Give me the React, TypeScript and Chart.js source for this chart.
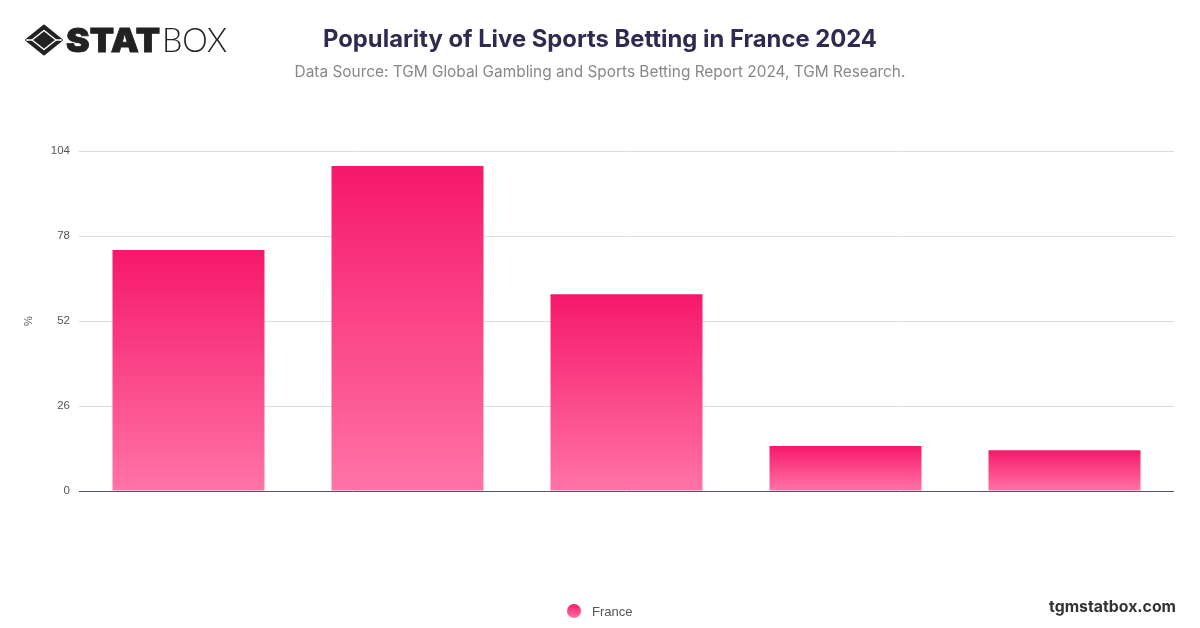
import Chart from "chart.js/auto";
import { useEffect, useRef } from "react";

// bars carry no category text in the picture
const categories = ["", "", "", "", ""];
const franceValues = [73.7, 99.4, 60.2, 13.8, 12.5];
const seriesName = "France";
const yMax = 104;
const yStep = 26;

const titleText = "Popularity of Live Sports Betting in France 2024";
const subtitleText = "Data Source: TGM Global Gambling and Sports Betting Report 2024, TGM Research.";

const TOP_PINK = "#f6186a";
const BOTTOM_PINK = "#ff74a6";
const FONT = "Inter, 'Liberation Sans', sans-serif";
const LABEL_FONT = "'Liberation Sans', sans-serif";

function barGradient(context: any) {
  const chart = context.chart;
  const yScale = chart.scales.y;
  if (!chart.chartArea || !yScale || context.raw === undefined) return TOP_PINK;
  const gradient = chart.ctx.createLinearGradient(
    0,
    yScale.getPixelForValue(context.raw),
    0,
    yScale.getPixelForValue(0)
  );
  gradient.addColorStop(0, TOP_PINK);
  gradient.addColorStop(1, BOTTOM_PINK);
  return gradient;
}

function Logo() {
  return (
    <svg
      width="210"
      height="40"
      viewBox="0 0 210 40"
      style={{ position: "absolute", left: 24, top: 20 }}
    >
      <path d="M20 5.500 L38 20 L20 34.500 L2 20 Z" fill="#222" stroke="#222" strokeWidth="2" strokeLinejoin="round" />
      <path d="M20 10.500 L32 20 L20 29.500 L8 20 Z" fill="#222" stroke="#fff" strokeWidth="1.500" strokeLinejoin="round" />
      <path d="M2 20 L8 20 M32 20 L38 20" stroke="#fff" strokeWidth="1.500" />
      <text x="42" y="32" fontFamily="Inter, sans-serif" fontWeight="900" fontSize="33" fill="#222" stroke="#222" strokeWidth="0.800" textLength="94" lengthAdjust="spacingAndGlyphs">
        STAT
      </text>
      <text x="138" y="32" fontFamily="Lato, sans-serif" fontWeight="300" fontSize="34" fill="#222" textLength="65" lengthAdjust="spacingAndGlyphs">
        BOX
      </text>
    </svg>
  );
}

export default function App() {
  const canvasRef = useRef<HTMLCanvasElement>(null);

  useEffect(() => {
    const canvas = canvasRef.current;
    if (!canvas) return;

    const chart = new Chart(canvas, {
      type: "bar",
      data: {
        labels: categories,
        datasets: [
          {
            label: seriesName,
            data: franceValues,
            backgroundColor: barGradient,
            barPercentage: 0.694,
            categoryPercentage: 1,
          },
        ],
      },
      options: {
        animation: false,
        responsive: false,
        layout: { padding: { left: 26, right: 26, top: 0, bottom: 0 } },
        scales: {
          x: {
            afterFit: (scale: any) => {
              scale.height = 137;
            },
            grid: { display: false },
            border: { display: false },
            ticks: { display: false },
          },
          y: {
            min: 0,
            max: yMax,
            afterFit: (scale: any) => {
              scale.width = 53;
            },
            title: {
              display: true,
              text: "%",
              color: "#555",
              font: { family: LABEL_FONT, size: 11 },
              padding: { top: -4, bottom: 0 },
            },
            border: { display: false },
            grid: {
              drawTicks: false,
              lineWidth: 1,
              color: (ctx: any) => (ctx.tick && ctx.tick.value === 0 ? "#555566" : "#dcdcdc"),
            },
            ticks: {
              stepSize: yStep,
              padding: 9,
              color: "#555",
              font: { family: LABEL_FONT, size: 11.5 },
            },
          },
        },
        plugins: {
          title: {
            display: true,
            text: titleText,
            color: "#2f2b50",
            font: { family: FONT, size: 23.8, weight: "bold" },
            padding: { top: 26, bottom: 9 },
          },
          subtitle: {
            display: true,
            text: subtitleText,
            color: "#888888",
            font: { family: FONT, size: 15.4, weight: "normal" },
            padding: { top: 0, bottom: 69 },
          },
          legend: { display: false },
          tooltip: { enabled: false },
        },
      },
    });
    return () => chart.destroy();
  }, []);

  return (
    <div style={{ position: "absolute", left: 0, top: 0, width: 1200, height: 628, background: "#fff" }}>
      <canvas ref={canvasRef} width={1200} height={628} style={{ display: "block" }} />
      <Logo />
      <div
        style={{
          position: "absolute",
          left: 567,
          top: 604,
          width: 14,
          height: 14,
          borderRadius: "50%",
          background: `linear-gradient(${TOP_PINK}, ${BOTTOM_PINK})`,
        }}
      />
      <div
        style={{
          position: "absolute",
          left: 592,
          top: 604,
          fontFamily: LABEL_FONT,
          fontSize: 13,
          lineHeight: "16px",
          color: "#555",
        }}
      >
        {seriesName}
      </div>
      <div
        style={{
          position: "absolute",
          right: 24,
          top: 597,
          fontFamily: FONT,
          fontWeight: 700,
          fontSize: 15.8,
          color: "#333",
        }}
      >
        tgmstatbox.com
      </div>
    </div>
  );
}
